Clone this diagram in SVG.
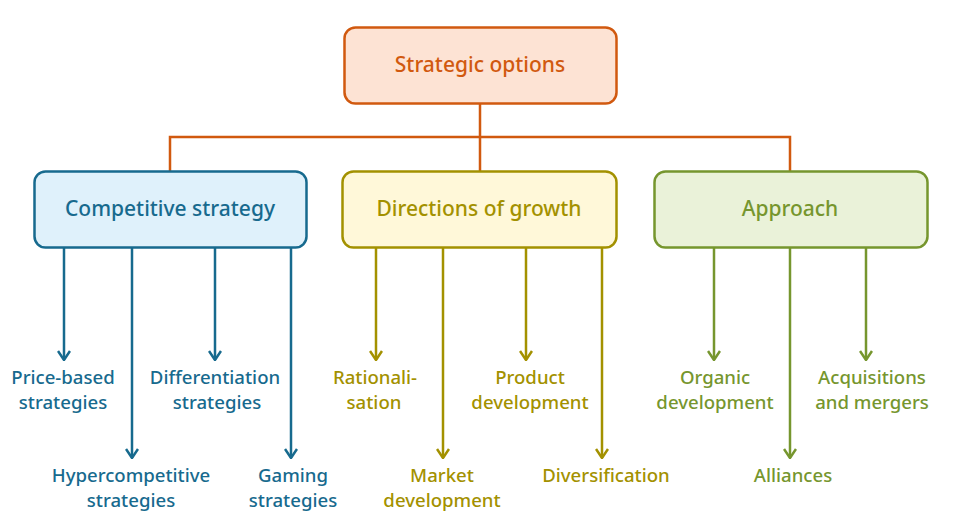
<svg xmlns="http://www.w3.org/2000/svg" width="960" height="532" viewBox="0 0 960 532">
<defs>
<style>
text{font-family:"Noto Sans","Open Sans","Liberation Sans",sans-serif;font-weight:500;text-anchor:middle}
.t{font-size:21px}
.l{font-size:18.6px}
.box{stroke-width:2.5}
.blue{fill:#176a8e}.olive{fill:#a39100}.green{fill:#76962e}.orange{fill:#d1590f}
.cb{stroke:#176a8e;stroke-width:2.5;fill:none}
.co{stroke:#a39100;stroke-width:2.5;fill:none}
.cg{stroke:#76962e;stroke-width:2.5;fill:none}
.cor{stroke:#d1590f;stroke-width:2.5;fill:none}
</style>
<marker id="ab" viewBox="0 0 14 12" refX="7" refY="11" markerWidth="14" markerHeight="12" markerUnits="userSpaceOnUse"><path d="M1,2 L7,11 L13,2" fill="none" stroke="#176a8e" stroke-width="2.5"/></marker>
<marker id="ao" viewBox="0 0 14 12" refX="7" refY="11" markerWidth="14" markerHeight="12" markerUnits="userSpaceOnUse"><path d="M1,2 L7,11 L13,2" fill="none" stroke="#a39100" stroke-width="2.5"/></marker>
<marker id="ag" viewBox="0 0 14 12" refX="7" refY="11" markerWidth="14" markerHeight="12" markerUnits="userSpaceOnUse"><path d="M1,2 L7,11 L13,2" fill="none" stroke="#76962e" stroke-width="2.5"/></marker>
</defs>
<rect width="960" height="532" fill="#ffffff"/>
<g id="connectors">
<path class="cor" d="M480,103 V171 M170,171 V137 H790 V171"/>
<path class="cb" marker-end="url(#ab)" d="M64,247 V360"/>
<path class="cb" marker-end="url(#ab)" d="M132,247 V458"/>
<path class="cb" marker-end="url(#ab)" d="M215,247 V360"/>
<path class="cb" marker-end="url(#ab)" d="M291,247 V458"/>
<path class="co" marker-end="url(#ao)" d="M376,247 V360"/>
<path class="co" marker-end="url(#ao)" d="M443,247 V458"/>
<path class="co" marker-end="url(#ao)" d="M526,247 V360"/>
<path class="co" marker-end="url(#ao)" d="M602,247 V458"/>
<path class="cg" marker-end="url(#ag)" d="M714,247 V360"/>
<path class="cg" marker-end="url(#ag)" d="M790,247 V458"/>
<path class="cg" marker-end="url(#ag)" d="M866,247 V360"/>
</g>
<g id="strategic-options">
<rect class="box" x="344.5" y="27.5" width="272" height="76" rx="11" fill="#fde3d4" stroke="#d1590f"/>
<text class="t orange" x="480" y="72">Strategic options</text>
</g>
<g id="competitive-strategy">
<rect class="box" x="34.5" y="171.5" width="272" height="76" rx="11" fill="#dff1fb" stroke="#176a8e"/>
<text class="t blue" x="170" y="216">Competitive strategy</text>
</g>
<g id="directions-of-growth">
<rect class="box" x="342.5" y="171.5" width="274" height="76" rx="11" fill="#fff8d9" stroke="#a39100"/>
<text class="t olive" x="479" y="216">Directions of growth</text>
</g>
<g id="approach">
<rect class="box" x="654.5" y="171.5" width="273" height="76" rx="11" fill="#eaf2d9" stroke="#76962e"/>
<text class="t green" x="790" y="216">Approach</text>
</g>
<g id="price-based"><text class="l blue" x="63" y="384">Price-based</text><text class="l blue" x="63" y="409">strategies</text></g>
<g id="differentiation"><text class="l blue" x="215" y="384">Differentiation</text><text class="l blue" x="217" y="409">strategies</text></g>
<g id="hypercompetitive"><text class="l blue" x="131" y="482">Hypercompetitive</text><text class="l blue" x="131" y="507">strategies</text></g>
<g id="gaming"><text class="l blue" x="293" y="482">Gaming</text><text class="l blue" x="293" y="507">strategies</text></g>
<g id="rationalisation"><text class="l olive" x="375" y="384">Rationali-</text><text class="l olive" x="374" y="409">sation</text></g>
<g id="product-development"><text class="l olive" x="530" y="384">Product</text><text class="l olive" x="530" y="409">development</text></g>
<g id="market-development"><text class="l olive" x="442" y="482">Market</text><text class="l olive" x="442" y="507">development</text></g>
<g id="diversification"><text class="l olive" x="606" y="482">Diversification</text></g>
<g id="organic-development"><text class="l green" x="715" y="384">Organic</text><text class="l green" x="715" y="409">development</text></g>
<g id="acquisitions"><text class="l green" x="872" y="384">Acquisitions</text><text class="l green" x="872" y="409">and mergers</text></g>
<g id="alliances"><text class="l green" x="793" y="482">Alliances</text></g>
</svg>
